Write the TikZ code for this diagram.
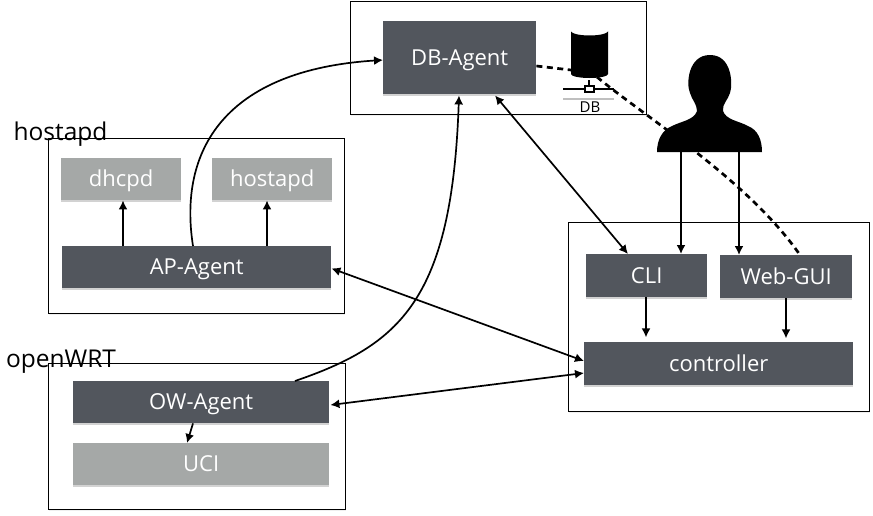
\documentclass[tikz,border=0pt]{standalone}
\usepackage{fontspec}
\setmainfont{Open Sans}
\usetikzlibrary{shadows,arrows.meta,calc}
\definecolor{darkbox}{HTML}{52565D}
\definecolor{lightbox}{HTML}{A5A8A7}
\newcommand{\lowered}[1]{\raisebox{-7.5pt}[0pt][0pt]{#1}}
\tikzset{
  pos/.style args={#1,#2,#3,#4}{minimum width=#3-#1,minimum height=#4-#2,anchor=north west,at={(#1,#2)}},
  boxbase/.style={inner sep=0pt,text=white,font=\fontsize{22}{26}\selectfont,drop shadow={shadow xshift=0pt,shadow yshift=-1.5pt,opacity=.35}},
  darknode/.style={boxbase,fill=darkbox},
  lightnode/.style={boxbase,fill=lightbox},
  frame/.style={draw=black,line width=1pt,fill=white,inner sep=0pt,drop shadow={shadow xshift=0pt,shadow yshift=-1pt,opacity=.12}},
  tag/.style={font=\fontsize{24.5}{28}\selectfont,text=black,inner sep=0pt},
  link/.style={line width=1.7pt,-{Latex[length=9pt,width=9pt]}},
  duplex/.style={line width=1.7pt,{Latex[length=9pt,width=9pt]}-{Latex[length=9pt,width=9pt]}},
  dashlink/.style={line width=2.7pt,dash pattern=on 6pt off 4.5pt},
}
\begin{document}
\begin{tikzpicture}[x=1pt,y=-1pt]
\useasboundingbox (0,0) rectangle (873,515);
\fill[white] (0,0) rectangle (873,515);
% frames
\node[frame,pos={350,1,646,114}] (dbframe) {};
\node[frame,pos={48,138,344,313}] (apframe) {};
\node[frame,pos={48,363,345,509}] (owframe) {};
\node[frame,pos={568,222,869,411}] (ctrlframe) {};
% boxes
\node[darknode,pos={383,21,536,94}] (db) {\lowered{DB-Agent}};
\node[lightnode,pos={61,158,181,200}] (dhcpd) {\lowered{dhcpd}};
\node[lightnode,pos={212,158,332,200}] (hostapd) {\lowered{hostapd}};
\node[darknode,pos={62,246,331,288}] (ap) {\lowered{AP-Agent}};
\node[darknode,pos={73,381,329,423}] (ow) {\lowered{OW-Agent}};
\node[lightnode,pos={73,443,329,485}] (uci) {\lowered{UCI}};
\node[darknode,pos={586,254,707,297}] (cli) {\lowered{CLI}};
\node[darknode,pos={720,255,852,298}] (web) {\lowered{Web-GUI}};
\node[darknode,pos={584,342,853,385}] (ctrl) {\lowered{controller}};
% labels
\node[tag,anchor=center] (hostapdtag) at (60.5,134) {hostapd};
\node[tag,anchor=center] (owtag) at (61,362) {openWRT};
% DB symbol
\fill[black] (571,31) arc[start angle=180,end angle=0,x radius=18.5,y radius=4.5] -- (608,74)
  arc[start angle=0,end angle=180,x radius=18.5,y radius=4] -- cycle;
\draw[white,line width=1pt] (571,31.5) arc[start angle=180,end angle=360,x radius=18.5,y radius=4.5];
\draw[black!25,line width=2pt] (563,99) -- (614,99);
\draw[black,line width=2pt] (563,88.5) -- (614,88.5) (589,80) -- (589,88);
\node[draw=black,fill=white,line width=2pt,minimum width=9pt,minimum height=6pt,inner sep=0pt] (dbport) at (589,88.5) {};
\node[font=\fontsize{15}{17}\selectfont,inner sep=0pt,text=black] (dblabel) at (590,107.5) {DB};
% dashed connectors
\coordinate (cylleft) at (571,70);
\coordinate (cylbottom) at (597,77);
\draw[dashlink] (db.east |- cylleft) ++(0,-4) -- (cylleft);
\draw[dashlink] (cylbottom) .. controls (645,117) and (748,180) .. ([xshift=80pt]web.north west);
% person
\fill[black] (657,152)
  .. controls (657,140) and (662,130) .. (672,126)
  .. controls (682,121) and (694,120) .. (697,111)
  .. controls (697,104) and (692,100) .. (690,93)
  .. controls (686,84) and (688,55) .. (710,55)
  .. controls (732,55) and (733,84) .. (730,93)
  .. controls (728,100) and (722,104) .. (723,111)
  .. controls (726,120) and (739,121) .. (748,126)
  .. controls (758,130) and (762,140) .. (762,152) -- cycle;
\coordinate (personl) at (681,152);
\coordinate (personr) at (739,152);
% solid connectors
\draw[link] ([xshift=61pt]ap.north west) -- ([xshift=62pt]dhcpd.south west);
\draw[link] ([xshift=205pt]ap.north west) -- ([xshift=55pt]hostapd.south west);
\draw[link] ([xshift=120pt]ow.south west) -- ([xshift=114pt]uci.north west);
\draw[link] (personl) -- (personl |- cli.north);
\draw[link] (personr) -- (personr |- web.north);
\draw[link] ([xshift=60pt]cli.south west) -- ([xshift=60pt,yshift=-40pt]cli.south west);
\draw[link] ([xshift=66pt]web.south west) -- ([xshift=66pt,yshift=-40pt]web.south west);
\draw[duplex] ([xshift=112pt,yshift=-1pt]db.south west) -- ([xshift=42pt]cli.north west);
\draw[duplex] ([yshift=20pt]ap.south east) -- ([yshift=-19pt]ctrl.north west);
\draw[duplex] ([xshift=1pt,yshift=-24pt]ow.north east) -- ([yshift=-31pt]ctrl.north west);
\draw[link] ([xshift=131pt]ap.north west) .. controls (178,150) and (225,70) .. ([yshift=-39pt]db.north west);
\draw[link] ([xshift=222pt]ow.north west) .. controls (400,345) and (452,300) .. ([xshift=76pt,yshift=-1pt]db.south west);
\end{tikzpicture}
\end{document}
